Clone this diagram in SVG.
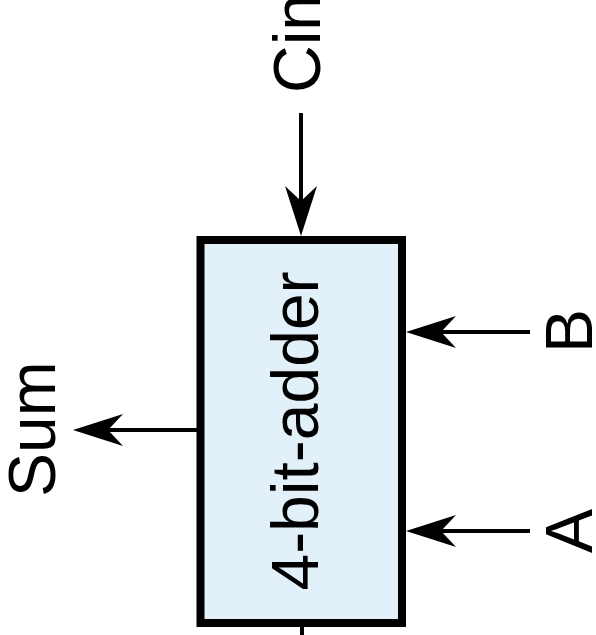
<svg xmlns="http://www.w3.org/2000/svg" width="596" height="635" viewBox="0 0 596 635">
  <style>
    .lbl { font-family: "Liberation Sans", Arial, sans-serif; font-size: 66px; fill: #000; }
    .wire { stroke: #000; stroke-width: 4; fill: none; }
    .block { fill: #e2f1f9; stroke: #000; stroke-width: 8; }
  </style>
  <defs>
    <!-- notched arrowhead; tip sits 30px beyond the wire end -->
    <marker id="arrow" markerUnits="userSpaceOnUse" viewBox="-52 -18 56 36" markerWidth="56" markerHeight="36" refX="-30" refY="0" orient="auto">
      <path d="M0,0 L-50,-16 L-35,0 L-50,16 Z" fill="#000"/>
    </marker>
  </defs>
  <rect width="596" height="635" fill="#fff"/>

  <g id="adder">
    <rect class="block" x="200.5" y="240" width="201.5" height="383"/>
    <text class="lbl" text-anchor="middle" transform="translate(318,431) rotate(-90)">4-bit-adder</text>
  </g>

  <g id="cin">
    <text class="lbl" transform="translate(320,93) rotate(-90)">Cin</text>
  </g>
  <g id="sum">
    <text class="lbl" transform="translate(55,497) rotate(-90)">Sum</text>
  </g>
  <g id="b">
    <text class="lbl" text-anchor="middle" transform="translate(592,331) rotate(-90)">B</text>
  </g>
  <g id="a">
    <text class="lbl" text-anchor="middle" transform="translate(592,531) rotate(-90)">A</text>
  </g>

  <g id="connectors">
    <line class="wire" x1="301" y1="113" x2="301" y2="206" marker-end="url(#arrow)"/>
    <line class="wire" x1="197" y1="430" x2="103" y2="430" marker-end="url(#arrow)"/>
    <line class="wire" x1="530" y1="332" x2="436" y2="332" marker-end="url(#arrow)"/>
    <line class="wire" x1="530" y1="531" x2="436" y2="531" marker-end="url(#arrow)"/>
    <line class="wire" x1="302" y1="627" x2="302" y2="635"/>
  </g>
</svg>
